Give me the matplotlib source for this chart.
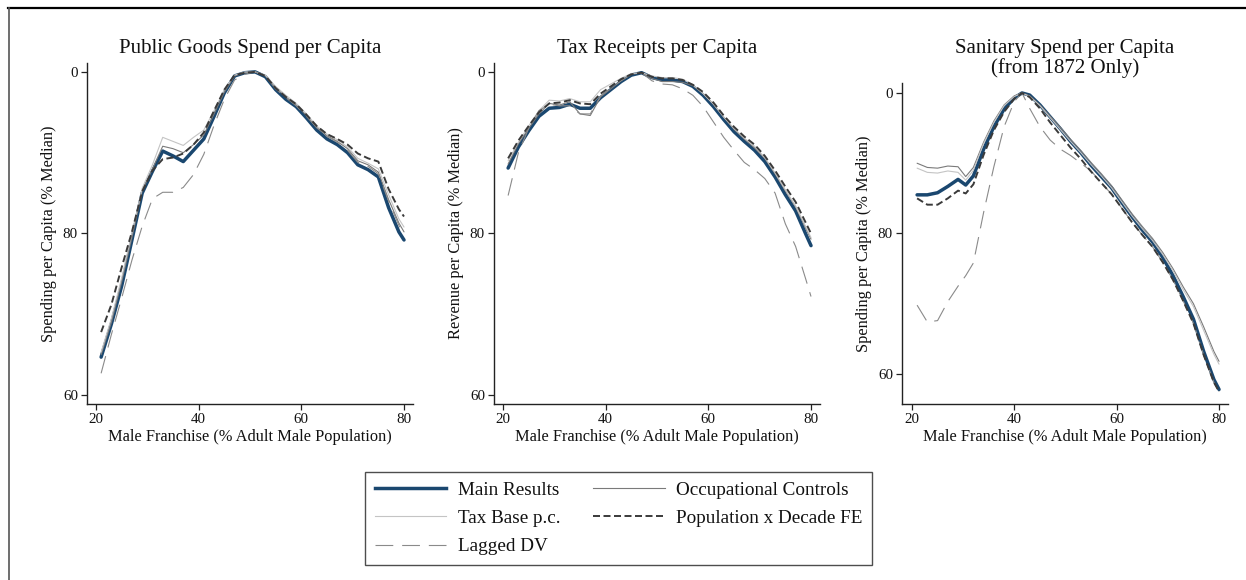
import matplotlib
matplotlib.use("Agg")
import matplotlib.pyplot as plt
from matplotlib.lines import Line2D

plt.rcParams['font.family'] = ['Liberation Serif', 'DejaVu Serif']

# ---------------- data ----------------
series_names = ["Main Results", "Occupational Controls", "Tax Base p.c.",
                "Population x Decade FE", "Lagged DV"]

panel_titles = ["Public Goods Spend per Capita",
                "Tax Receipts per Capita",
                "Sanitary Spend per Capita\n(from 1872 Only)"]
y_labels = ["Spending per Capita (% Median)",
            "Revenue per Capita (% Median)",
            "Spending per Capita (% Median)"]
x_label = "Male Franchise (% Adult Male Population)"

x_ticks = [20, 40, 60, 80]
y_ticks = [100, 80, 60]
y_tick_labels = ["0", "80", "60"]

# Public goods spend
x_pub = [21, 23, 25, 27, 29, 31, 33, 35, 37, 39, 41, 43, 45, 47, 49, 51, 53, 55,
         57, 59, 61, 63, 65, 67, 69, 71, 73, 75, 77, 79, 80]
pub_main = [64.7, 68.8, 73.5, 79.2, 85.0, 87.7, 90.2, 89.6, 88.9, 90.3, 91.7, 94.5,
            97.4, 99.5, 99.9, 100.0, 99.4, 97.8, 96.6, 95.7, 94.3, 92.8, 91.7, 91.0,
            90.0, 88.5, 87.9, 87.0, 83.2, 80.2, 79.2]
pub_occ = [65.0, 69.0, 74.0, 79.5, 85.3, 88.0, 90.8, 90.5, 90.0, 91.0, 92.2, 94.8,
           97.5, 99.5, 99.9, 100.0, 99.5, 98.0, 96.9, 95.9, 94.6, 93.1, 92.1, 91.4,
           90.5, 89.0, 88.5, 87.6, 84.2, 81.3, 80.2]
pub_tax = [65.3, 69.5, 74.5, 80.0, 85.6, 88.5, 91.9, 91.4, 90.9, 91.9, 92.8, 95.2,
           97.8, 99.6, 100.0, 100.0, 99.6, 98.2, 97.1, 96.1, 94.8, 93.3, 92.3, 91.6,
           90.7, 89.3, 88.7, 88.0, 84.8, 81.8, 80.8]
pub_fe = [67.8, 71.2, 75.8, 80.2, 85.2, 87.8, 89.2, 89.4, 89.9, 91.0, 92.5, 95.2,
          97.8, 99.6, 99.9, 100.0, 99.5, 98.0, 96.9, 96.0, 94.7, 93.3, 92.3, 91.7,
          91.0, 89.9, 89.3, 88.9, 85.5, 83.0, 82.1]
pub_lag = [62.7, 67.5, 72.0, 76.7, 80.9, 84.3, 85.1, 85.1, 85.7, 87.3, 89.8, 93.4,
           96.6, 99.0, 99.7, 100.0, 99.5, 97.9, 96.8, 95.8, 94.5, 93.1, 92.0, 91.3,
           90.3, 88.8, 88.3, 87.4, 84.0, 81.0, 80.0]

# Tax receipts
x_tax = [21, 23, 25, 27, 29, 31, 33, 35, 37, 39, 41, 43, 45, 47, 49, 51, 53, 55,
         57, 59, 61, 63, 65, 67, 69, 71, 73, 75, 77, 79, 80]
tax_main = [88.1, 90.7, 92.7, 94.5, 95.5, 95.6, 96.0, 95.5, 95.5, 96.8, 97.8, 98.8,
            99.6, 99.9, 99.3, 99.0, 99.0, 98.8, 98.2, 97.1, 95.7, 94.1, 92.6, 91.4,
            90.3, 88.9, 87.0, 84.8, 82.8, 79.9, 78.5]
tax_occ = [88.6, 91.1, 93.0, 94.8, 96.1, 95.9, 96.3, 94.8, 94.6, 96.9, 97.9, 98.9,
           99.7, 99.9, 99.2, 98.8, 98.8, 98.7, 98.3, 97.3, 96.0, 94.4, 92.9, 91.7,
           90.6, 89.3, 87.4, 85.3, 83.3, 80.6, 79.3]
tax_tax = [89.0, 91.3, 93.3, 95.2, 96.5, 96.4, 96.7, 96.3, 96.3, 97.8, 98.5, 99.2,
           99.8, 99.9, 99.5, 99.3, 99.3, 99.1, 98.4, 97.3, 96.0, 94.4, 93.0, 91.8,
           90.8, 89.4, 87.5, 85.4, 83.4, 80.8, 79.5]
tax_fe = [89.3, 91.5, 93.3, 95.0, 96.1, 96.2, 96.5, 96.1, 96.0, 97.3, 98.2, 99.1,
          99.7, 99.9, 99.4, 99.2, 99.2, 99.0, 98.4, 97.5, 96.2, 94.6, 93.2, 92.0,
          91.0, 89.6, 87.8, 85.8, 83.9, 81.3, 80.0]
tax_lag = [84.7, 90.0, 93.0, 95.2, 96.0, 95.8, 95.8, 94.8, 94.8, 97.0, 98.0, 98.9,
           99.7, 99.9, 98.9, 98.5, 98.4, 97.9, 97.1, 95.7, 93.8, 91.9, 90.3, 88.8,
           87.9, 86.8, 85.0, 81.2, 78.4, 74.3, 72.2]

# Sanitary spend (from 1872)
x_san = [21, 23, 25, 27, 29, 30.5, 32, 34, 36, 38, 40, 41.5, 43, 45, 47, 49, 51, 53,
         55, 57, 59, 61, 63, 65, 67, 69, 71, 73, 75, 77, 79, 80]
san_main = [85.5, 85.5, 85.8, 86.7, 87.7, 86.9, 88.2, 92.0, 95.2, 97.7, 99.3, 100.0,
            99.7, 98.3, 96.6, 94.9, 93.1, 91.5, 89.7, 88.1, 86.5, 84.4, 82.4, 80.5,
            78.8, 76.6, 74.0, 71.0, 67.8, 63.2, 59.2, 57.8]
san_occ = [90.0, 89.4, 89.3, 89.6, 89.5, 88.1, 89.4, 93.0, 96.0, 98.3, 99.6, 100.0,
           99.6, 98.3, 96.7, 95.1, 93.4, 91.8, 90.1, 88.5, 86.8, 84.8, 82.8, 81.0,
           79.3, 77.3, 75.0, 72.4, 70.0, 66.7, 63.2, 61.8]
san_tax = [89.3, 88.7, 88.6, 88.9, 88.7, 87.6, 89.0, 92.8, 95.8, 98.2, 99.5, 100.0,
           99.5, 98.2, 96.5, 94.8, 93.1, 91.5, 89.8, 88.2, 86.5, 84.5, 82.5, 80.7,
           79.0, 77.0, 74.7, 72.0, 69.6, 66.2, 62.8, 61.4]
san_fe = [85.0, 84.1, 84.1, 85.0, 86.1, 85.7, 87.0, 91.2, 94.7, 97.3, 99.2, 100.0,
          99.4, 97.8, 95.8, 94.0, 92.2, 90.6, 88.8, 87.2, 85.6, 83.6, 81.6, 79.8,
          78.1, 75.9, 73.4, 70.4, 67.2, 62.7, 58.8, 57.5]
san_lag = [69.8, 67.4, 67.6, 70.3, 72.5, 74.0, 75.8, 83.0, 89.5, 95.2, 98.8, 100.0,
           97.8, 95.2, 93.3, 92.0, 91.1, 90.0, 88.9, 87.2, 85.6, 83.6, 81.6, 79.8,
           78.1, 75.9, 73.4, 70.4, 67.2, 62.7, 58.8, 57.5]

panels = [
    (x_pub, [pub_main, pub_occ, pub_tax, pub_fe, pub_lag]),
    (x_tax, [tax_main, tax_occ, tax_tax, tax_fe, tax_lag]),
    (x_san, [san_main, san_occ, san_tax, san_fe, san_lag]),
]

# ---------------- styles ----------------
styles = [
    dict(color="#1a476f", lw=2.5, ls="-", zorder=2),
    dict(color="#7a7a7a", lw=0.8, ls="-", zorder=3),
    dict(color="#c4c4c4", lw=0.8, ls="-", zorder=3),
    dict(color="#3a3a3a", lw=1.4, ls=(0, (3.6, 1.8)), zorder=4),
    dict(color="#8a8a8a", lw=0.8, ls=(0, (16, 8)), zorder=3),
]

W, H = 1246, 580
fig = plt.figure(figsize=(W / 100, H / 100), dpi=100)
fig.patch.set_facecolor("white")

# axes boxes in pixels: left, right, top, bottom ; x-limits ; y-limits
boxes = [
    (87, 413, 63, 404, (18.25, 81.75), (58.9, 101.1)),
    (494, 820, 63, 404, (18.25, 81.75), (58.9, 101.1)),
    (902, 1228, 83, 404, (18.05, 81.75), (55.73, 101.42)),
]

axes = []
for (l, r, t, b, xl, yl), (xs, ys_list), ylab in zip(boxes, panels, y_labels):
    ax = fig.add_axes([l / W, 1 - b / H, (r - l) / W, (b - t) / H])
    for ys, st in zip(ys_list, styles):
        ax.plot(xs, ys, color=st["color"], lw=st["lw"], ls=st["ls"],
                zorder=st["zorder"], solid_capstyle="round",
                solid_joinstyle="round")
    ax.set_xlim(*xl)
    ax.set_ylim(*yl)
    ax.set_xticks(x_ticks)
    ax.set_yticks(y_ticks)
    ax.set_yticklabels(y_tick_labels)
    for s in ["top", "right"]:
        ax.spines[s].set_visible(False)
    for s in ["left", "bottom"]:
        ax.spines[s].set_linewidth(1.0)
        ax.spines[s].set_color("#222222")
    ax.tick_params(direction="out", length=4, width=0.9, color="#222222",
                   labelsize=10.8, pad=2.5, labelcolor="#111111")
    ax.set_xlabel(x_label, fontsize=11.8, labelpad=2, color="#111111")
    ax.set_ylabel(ylab, fontsize=11.8, labelpad=4, color="#111111")
    axes.append(ax)

# panel titles
title_centers = [250, 657, 1065]
fig.text(title_centers[0] / W, 1 - 53 / H, panel_titles[0], ha="center",
         va="baseline", fontsize=15, color="#111111")
fig.text(title_centers[1] / W, 1 - 53 / H, panel_titles[1], ha="center",
         va="baseline", fontsize=15, color="#111111")
t3a, t3b = panel_titles[2].split("\n")
fig.text(title_centers[2] / W, 1 - 53 / H, t3a, ha="center", va="baseline",
         fontsize=15, color="#111111")
fig.text(title_centers[2] / W, 1 - 73 / H, t3b, ha="center", va="baseline",
         fontsize=15, color="#111111")

# legend (row-wise order: Main, Occupational / Tax Base, Pop FE / Lagged)
handles = [Line2D([], [], color=st["color"], lw=st["lw"], ls=st["ls"]) for st in styles]
order = [0, 2, 4, 1, 3]
leg = fig.legend([handles[i] for i in order], [series_names[i] for i in order],
                 loc="upper left", bbox_to_anchor=(365 / W, 1 - 472 / H),
                 bbox_transform=fig.transFigure, ncol=2, fontsize=13.8,
                 frameon=True, fancybox=False, shadow=False,
                 handlelength=3.75, handletextpad=0.6, columnspacing=1.7,
                 labelspacing=0.56, borderpad=0.5, borderaxespad=0)
leg.get_frame().set_edgecolor("#222222")
leg.get_frame().set_linewidth(1.0)
for txt in leg.get_texts():
    txt.set_color("#111111")

# outer frame lines
fig.add_artist(Line2D([8 / W, 1], [1 - 8 / H, 1 - 8 / H], color="black", lw=1.6,
                      transform=fig.transFigure))
fig.add_artist(Line2D([9 / W, 9 / W], [0, 1 - 8 / H], color="#555555", lw=1.2,
                      transform=fig.transFigure))

fig.savefig("out.png", dpi=100, facecolor="white")
